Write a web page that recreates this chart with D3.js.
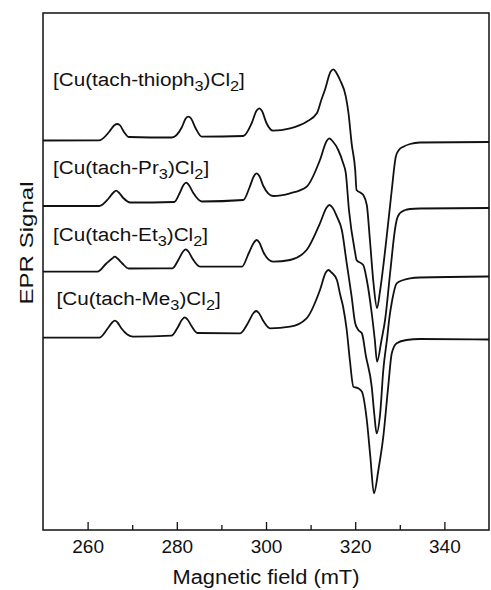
<!DOCTYPE html>
<html>
<head>
<meta charset="utf-8">
<script src="https://cdn.jsdelivr.net/npm/d3@7"></script>
<style>
  body { margin: 0; background: #fff; }
  text { font-family: "Liberation Sans", Arial, sans-serif; fill: #111; }
</style>
</head>
<body>
<div id="canvas"></div>
<script>
// field range and ticks (mT)
const fieldDomain = [250, 350];
const majorTicks = [260, 280, 300, 320, 340];
const minorTicks = [270, 290, 310, 330];

// ligand names, top to bottom
const ligands = ["thioph", "Pr", "Et", "Me"];
// vertical offset of each spectrum (arbitrary units)
const offsets = [390, 324, 258, 192];

// spectra: [field (mT), signal (a.u.)]
const traceThioph = [
  [250,-0.5],[262.6,-0.3],[264.9,8.5],[266.0,14.8],[266.7,16],[267.3,14.5],[268.1,8.5],[269.3,3],[278.9,2.5],[281.1,12.5],
  [282.0,21.5],[282.6,23.3],[283.2,21.5],[284.2,12],[285.6,3.3],[294.9,4],[296.8,17],[297.9,29.5],[298.5,31.7],[299.1,29],[300.1,17],[301.6,9.3],
  [305.4,11.7],[309.1,18.3],[311.4,26.7],[312.4,40],[313.2,50],[314.5,68.5],[315.1,70.7],[315.8,67],[316.6,60],[317.9,43.3],
  [318.5,26.7],[319.2,-3.3],[320.0,-30],[320.3,-50],[321.3,-53],[321.8,-55],[322.6,-65],[323.3,-100],
  [324.1,-143],[324.9,-168],[325.6,-150],[327.1,-95],[328.2,-50],[329.1,-16.7],[329.8,-10],
  [330.8,-6.7],[332.3,-4],[334.5,-2.5],[350,-2]
];
const tracePr = [
  [250,0],[262.6,0],[264.7,7.5],[265.8,13.5],[266.4,15.3],[267.0,13.5],[268.0,8],[269.6,3.5],[279.4,4],[280.6,12.5],[281.5,21],[282.1,23.3],
  [282.7,21],[283.7,13],[285.6,4.5],[294.9,6],[296.3,18.5],[297.3,30],[297.9,32.7],[298.5,30],[299.4,20],[301.6,10],[305.4,12.7],
  [309.1,19.3],[312.1,46],[313.6,65],[314.2,67.7],[314.9,65],[316.2,56],[317.3,42.7],[317.9,32.7],[318.6,-4],[320.0,-47],
  [320.3,-54],[321.8,-59],[322.6,-74],[323.7,-107],[324.4,-134],[324.9,-155.7],[325.9,-134],
  [326.7,-114],[327.9,-64],[328.9,-24],[329.3,-14],[330.0,-7.3],[331.2,-4],[332.3,-3],[334.5,-2.5],[350,-2]
];
const traceEt = [
  [250,0.3],[262.2,0.3],[264.2,8.5],[265.5,13.5],[266.1,15.3],[266.7,13.5],[267.8,8.5],[269.2,3.5],[279.0,3.7],[280.4,12.5],[281.4,20.5],[282.0,22.7],
  [282.6,20.5],[283.5,13.5],[285.2,5.3],[294.6,5.3],[296.1,18.5],[297.3,29.5],[297.9,32],[298.5,29.5],[299.4,20],[301.6,10.3],[305.4,12],[309.1,22],
  [312.1,48.7],[313.6,64.5],[314.2,67],[314.9,64.5],[315.9,55.3],[317.0,42],[318.1,8.7],[319.2,-24.7],[320.0,-51.3],[320.7,-58],
  [321.5,-61.3],[322.4,-84],[323.7,-114.7],[324.3,-143],[324.8,-161.3],[325.6,-141.3],[326.3,-98],
  [327.2,-64.7],[327.6,-48],[328.3,-28],[329.3,-11.3],[330.8,-8],[332.3,-6.3],[334.5,-5.5],[350,-4.5]
];
const traceMe = [
  [250,0.3],[262.6,0.3],[264.5,9.5],[265.5,15.5],[266.1,17.3],[266.7,15.5],[267.6,9.5],[268.9,3.5],[270.2,1.3],[278.8,2.3],[280.2,10.5],
  [281.2,18.5],[281.8,20.7],[282.4,18.5],[283.3,12],[284.6,5],[294.2,4.7],[295.9,14.5],[297.2,25],[297.8,27],[298.4,25],[299.4,17],[300.9,9.7],
  [305.4,11.3],[309.1,19.7],[312.1,48],[313.4,65.5],[314.0,68],[314.7,65.5],[315.9,58],[316.6,44],[317.3,31],[318.1,8],
  [318.8,-22],[319.6,-48.7],[320.7,-50.3],[321.5,-53.7],[322.6,-82],[323.4,-119],[324.2,-155.3],
  [325.2,-132],[326.3,-98.7],[327.4,-48.7],[328.2,-15.3],[329.3,-5.3],[331.5,-2],[334.5,-1],[350,-1.5]
];
const traces = [traceThioph, tracePr, traceEt, traceMe];

const width = 491, height = 590;
const margin = { top: 13, right: 2, bottom: 60, left: 43 };

const svg = d3.select("#canvas")
  .append("svg")
  .attr("width", width)
  .attr("height", height)
  .style("background-color", "#fff");

const x = d3.scaleLinear()
  .domain(fieldDomain)
  .range([margin.left, width - margin.right]);

// arbitrary signal scale, no ticks shown
const y = d3.scaleLinear()
  .domain([0, height - margin.top - margin.bottom])
  .range([height - margin.bottom, margin.top]);

// frame
svg.append("rect")
  .attr("x", x(fieldDomain[0]))
  .attr("y", margin.top)
  .attr("width", x(fieldDomain[1]) - x(fieldDomain[0]))
  .attr("height", height - margin.bottom - margin.top)
  .attr("fill", "none")
  .attr("stroke", "#111")
  .attr("stroke-width", 1.5);

// bottom axis, ticks pointing inward
const xAxis = svg.append("g")
  .attr("transform", `translate(0,${height - margin.bottom})`)
  .call(d3.axisBottom(x).tickValues(majorTicks).tickSize(-8).tickPadding(10).tickFormat(d3.format("d")));
xAxis.select(".domain").remove();
xAxis.selectAll(".tick line").attr("stroke", "#111").attr("stroke-width", 1.3);
xAxis.selectAll(".tick text")
  .attr("font-size", 19)
  .attr("font-family", "Liberation Sans, Arial, sans-serif")
  .attr("fill", "#111");

svg.append("g")
  .attr("transform", `translate(0,${height - margin.bottom})`)
  .call(d3.axisBottom(x).tickValues(minorTicks).tickSize(-5).tickFormat(""))
  .call(g => g.select(".domain").remove())
  .selectAll(".tick line").attr("stroke", "#111").attr("stroke-width", 1.3);

// axis titles
svg.append("text")
  .attr("x", (x(fieldDomain[0]) + x(fieldDomain[1])) / 2)
  .attr("y", 584)
  .attr("text-anchor", "middle")
  .attr("font-size", 20)
  .attr("textLength", 187)
  .attr("lengthAdjust", "spacingAndGlyphs")
  .text("Magnetic field (mT)");

svg.append("text")
  .attr("transform", "translate(33,243) rotate(-90)")
  .attr("text-anchor", "middle")
  .attr("font-size", 19)
  .attr("textLength", 123)
  .attr("lengthAdjust", "spacingAndGlyphs")
  .text("EPR Signal");

// spectra
const line = d3.line()
  .x(d => x(d[0]))
  .curve(d3.curveMonotoneX);

traces.forEach((tr, i) => {
  svg.append("path")
    .datum(tr)
    .attr("fill", "none")
    .attr("stroke", "#111")
    .attr("stroke-width", 1.8)
    .attr("stroke-linejoin", "round")
    .attr("d", line.y(d => y(d[1] + offsets[i])));
});

// labels [Cu(tach-R3)Cl2]
const labelPos = [[53, 86], [53, 174], [53, 240.5], [56.5, 305]];
ligands.forEach((name, i) => {
  const t = svg.append("text")
    .attr("transform", `translate(${labelPos[i][0]},${labelPos[i][1]}) scale(1.09,1)`)
    .attr("font-size", 19);
  t.append("tspan").text("[Cu(tach-" + name);
  t.append("tspan").attr("font-size", 15).attr("dy", 5).text("3");
  t.append("tspan").attr("dy", -5).text(")Cl");
  t.append("tspan").attr("font-size", 15).attr("dy", 5).text("2");
  t.append("tspan").attr("dy", -5).text("]");
});
</script>
</body>
</html>
